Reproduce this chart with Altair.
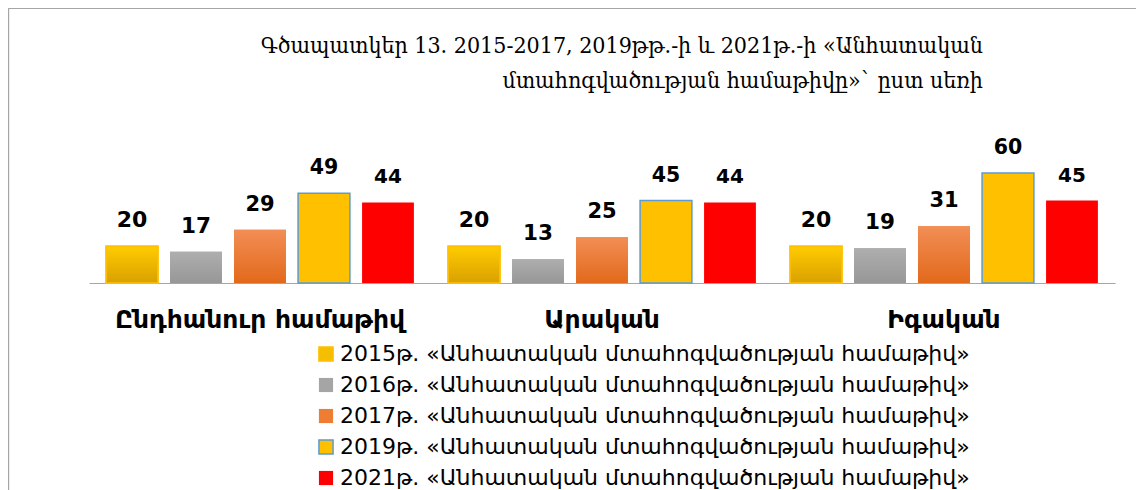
import altair as alt
import pandas as pd

categories = ["Ընդհանուր համաթիվ", "Արական", "Իգական"]
series = [
    "2015թ. «Անհատական մտահոգվածության համաթիվ»",
    "2016թ. «Անհատական մտահոգվածության համաթիվ»",
    "2017թ. «Անհատական մտահոգվածության համաթիվ»",
    "2019թ. «Անհատական մտահոգվածության համաթիվ»",
    "2021թ. «Անհատական մտահոգվածության համաթիվ»",
]
v2015 = [20, 20, 20]
v2016 = [17, 13, 19]
v2017 = [29, 25, 31]
v2019 = [49, 45, 60]
v2021 = [44, 44, 45]
title_lines = ["Գծապատկեր 13. 2015-2017, 2019թթ.-ի և 2021թ.-ի «Անհատական",
               "մտահոգվածության համաթիվը»` ըստ սեռի"]

fills = ["#F5BE00", "#A5A5A5", "#EE7D33", "#FFC000", "#FF0000"]
strokes = ["#FFC000", "transparent", "transparent", "#5B9BD5", "transparent"]
label_sizes = [22, 20, 22, 19, 25]

rows = []
for s, vals in zip(series, [v2015, v2016, v2017, v2019, v2021]):
    for c, v in zip(categories, vals):
        rows.append({"category": c, "series": s, "value": v})
df = pd.DataFrame(rows)

W, H = 1026, 120
PAD_L, PAD_T = 81, 155

x_enc = alt.X("category:N", sort=categories,
              scale=alt.Scale(domain=categories, paddingInner=0.1, paddingOuter=0.05),
              axis=alt.Axis(title=None, labelAngle=0, ticks=False, domainColor="#A6A6A6",
                            domainWidth=1.2, labelFont="DejaVu Sans", labelFontWeight="bold",
                            labelFontSize=25, labelColor="#000000", labelPadding=24,
                            labelLimit=600))
xo_enc = alt.XOffset("series:N", sort=series,
                     scale=alt.Scale(domain=series, paddingInner=0.19, paddingOuter=0))
y_enc = alt.Y("value:Q", scale=alt.Scale(domain=[0, 65.5], nice=False), axis=None)

base = alt.Chart(df).encode(x=x_enc, xOffset=xo_enc, y=y_enc)

legend_kw = dict(title=None, orient="none", legendX=226, legendY=180,
                 symbolType="square", symbolSize=200, symbolStrokeWidth=1.5,
                 labelFont="DejaVu Sans", labelFontSize=22, labelColor="#000000",
                 labelOffset=3, rowPadding=9, labelLimit=900)

bars = base.mark_bar(strokeWidth=1.5).encode(
    color=alt.Color("series:N", sort=series,
                    scale=alt.Scale(domain=series, range=fills),
                    legend=alt.Legend(**legend_kw)),
    stroke=alt.Stroke("series:N", sort=series,
                      scale=alt.Scale(domain=series, range=strokes),
                      legend=alt.Legend(**legend_kw)),
)

def grad_layer(name, top, bottom, stroke=None):
    kw = {}
    if stroke:
        kw = {"stroke": stroke, "strokeWidth": 1.5}
    return base.transform_filter(alt.datum.series == name).mark_bar(
        fill=alt.Gradient(gradient="linear",
                          stops=[alt.GradientStop(color=top, offset=0),
                                 alt.GradientStop(color=bottom, offset=1)],
                          x1=0, x2=0, y1=0, y2=1),
        **kw)

g2015 = grad_layer(series[0], "#FFCC00", "#D9A000", "#FFC000")
g2016 = grad_layer(series[1], "#AEAEAE", "#979797")
g2017 = grad_layer(series[2], "#F28E55", "#E2691B")

labels = base.transform_calculate(sz="datum.series").mark_text(
    font="DejaVu Sans", fontWeight="bold", color="#000000",
    baseline="alphabetic", dy=-19).encode(
    text=alt.Text("value:Q"),
    size=alt.Size("sz:N", scale=alt.Scale(domain=series, range=label_sizes), legend=None),
)

tdf = pd.DataFrame({"t": title_lines, "i": [0, 1]})
title1 = alt.Chart(tdf).transform_filter(alt.datum.i == 0).mark_text(
    font="DejaVu Serif Condensed", fontSize=23, align="right", baseline="alphabetic",
    color="#000000").encode(text="t:N", x=alt.value(894), y=alt.value(-110))
title2 = alt.Chart(tdf).transform_filter(alt.datum.i == 1).mark_text(
    font="DejaVu Serif Condensed", fontSize=23, align="right", baseline="alphabetic",
    color="#000000").encode(text="t:N", x=alt.value(894), y=alt.value(-75))

frame_top = alt.Chart(tdf).mark_rule(color="#A6A6A6", strokeWidth=1.2).encode(
    x=alt.value(-PAD_L + 0.5), x2=alt.value(W + 60), y=alt.value(-PAD_T + 0.5))
frame_left = alt.Chart(tdf).mark_rule(color="#A6A6A6", strokeWidth=1.2).encode(
    x=alt.value(-PAD_L + 0.5), y=alt.value(-PAD_T + 0.5), y2=alt.value(H + 400))

chart = alt.layer(frame_top, frame_left, title1, title2, bars, g2015, g2016, g2017,
                  labels).resolve_scale(size="independent").properties(
    width=W, height=H,
    background="white",
    padding={"left": PAD_L, "top": PAD_T, "right": 21, "bottom": 207},
    autosize=alt.AutoSizeParams(type="none"),
).configure_view(strokeWidth=0, stroke="transparent")

chart.save("out.html", embed_options={"renderer": "svg", "actions": False})
